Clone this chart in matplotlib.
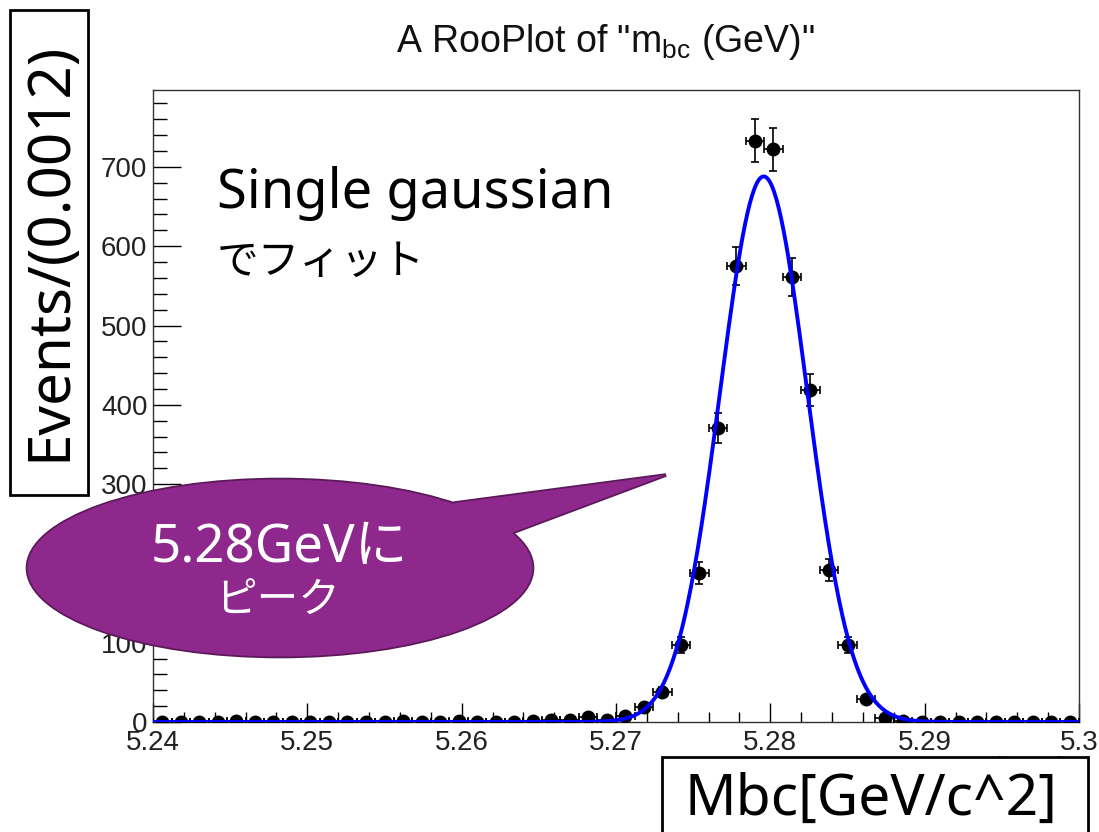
import numpy as np
import matplotlib
matplotlib.use("Agg")
import matplotlib.pyplot as plt
from matplotlib.patches import Ellipse, Polygon, Rectangle
from matplotlib.ticker import MultipleLocator

plt.rcParams['font.family'] = ['Liberation Sans', 'DejaVu Sans']
plt.rcParams['mathtext.fontset'] = 'custom'
plt.rcParams['mathtext.rm'] = 'Liberation Sans'
plt.rcParams['mathtext.it'] = 'Liberation Sans'

# binned data: 50 bins of 0.0012 GeV from 5.24 to 5.30
bin_lo = 5.24
bin_width = 0.0012
counts = [0, 0, 0, 0, 1, 0, 0, 0, 0, 0,
          0, 0, 0, 1, 0, 0, 1, 0, 0, 0,
          1, 2, 2, 6, 2, 8, 19, 38, 97, 188,
          371, 575, 733, 722, 561, 419, 192, 97, 29, 5,
          1, 0, 0, 0, 0, 0, 0, 0, 0, 0]

# single gaussian fit
fit_mean = 5.27957
fit_sigma = 0.00282
fit_peak = 688.0

x_ticks = [5.24, 5.25, 5.26, 5.27, 5.28, 5.29, 5.30]
x_labels = ['5.24', '5.25', '5.26', '5.27', '5.28', '5.29', '5.3']
y_ticks = [0, 100, 200, 300, 400, 500, 600, 700]

W, H = 1099, 832
def fx(px):
    return px / W
def fy(py):
    return 1 - py / H

counts = np.array(counts, dtype=float)
centers = bin_lo + bin_width * (np.arange(len(counts)) + 0.5)
err_hi = np.where(counts > 0, np.sqrt(counts), 1.15)
err_lo = np.sqrt(counts)

fig = plt.figure(figsize=(W / 100, H / 100), dpi=100)
ax = fig.add_axes([fx(153), fy(722), fx(1079 - 153), (722 - 90) / H])

ax.errorbar(centers, counts, xerr=bin_width / 2, yerr=[err_lo, err_hi],
            fmt='o', color='black', ms=9, capsize=3, elinewidth=1.2,
            capthick=1.2, zorder=3)

xf = np.linspace(5.24, 5.30, 800)
yf = fit_peak * np.exp(-0.5 * ((xf - fit_mean) / fit_sigma) ** 2)
ax.plot(xf, yf, color='#0000ff', lw=2.8, zorder=4)

ax.set_xlim(5.24, 5.30)
ax.set_ylim(0, 797)
ax.set_xticks(x_ticks, x_labels)
ax.set_yticks(y_ticks)
ax.xaxis.set_minor_locator(MultipleLocator(0.002))
ax.yaxis.set_minor_locator(MultipleLocator(20))
ax.tick_params(axis='x', which='major', direction='in', length=14, width=1,
               labelsize=20, pad=6, labelcolor='#222222')
ax.tick_params(axis='x', which='minor', direction='in', length=7, width=1)
ax.tick_params(axis='y', which='major', direction='in', length=20, width=1,
               labelsize=20, pad=4, labelcolor='#222222')
ax.tick_params(axis='y', which='minor', direction='in', length=10, width=1)
for s in ax.spines.values():
    s.set_linewidth(1.0)
    s.set_color('#333333')

fig.text(fx(605), fy(42), 'A RooPlot of "m$_{\\mathrm{bc}}$ (GeV)"',
         ha='center', va='center', fontsize=27, color='#111111')

# root's own x title, mostly hidden behind the box
fig.text(fx(1066), fy(754), 'm$_{\\mathrm{bc}}$ (GeV)', ha='right', va='top',
         fontsize=20, color='#222222', zorder=1)

latin = ['Noto Sans', 'Noto Sans CJK JP', 'DejaVu Sans']
jp = ['Noto Sans CJK JP', 'DejaVu Sans']

fig.text(fx(217), fy(208), 'Single gaussian', family=latin, fontsize=39,
         va='baseline', ha='left')
fig.text(fx(217), fy(274), 'でフィット', family=jp, fontsize=30,
         va='baseline', ha='left')

# speech bubble
purple = '#8e288c'
edge = '#5c1a5b'
ell_c = (fx(280), fy(568))
ell_w, ell_h = fx(505), 177 / H
tail = [(fx(440), fy(540)), (fx(455), fy(503)), (fx(666), fy(475)),
        (fx(514), fy(532)), (fx(480), fy(560))]
for lw, ec, z in [(2.6, edge, 6), (0, 'none', 7)]:
    fig.patches.append(Ellipse(ell_c, ell_w, ell_h, transform=fig.transFigure,
                               facecolor=purple, edgecolor=ec, lw=lw, zorder=z))
    fig.patches.append(Polygon(tail, closed=True, transform=fig.transFigure,
                               facecolor=purple, edgecolor=ec, lw=lw, zorder=z))
fig.text(fx(279), fy(562), '5.28GeVに', family=latin, fontsize=38, color='white',
         ha='center', va='baseline', zorder=8)
fig.text(fx(278), fy(613), 'ピーク', family=jp, fontsize=30, color='white',
         ha='center', va='baseline', zorder=8)

# boxed axis labels
fig.patches.append(Rectangle((fx(10), fy(495)), fx(78), (495 - 10) / H,
                             transform=fig.transFigure, facecolor='white',
                             edgecolor='black', lw=2, zorder=5))
fig.text(fx(50), fy(251), 'Events/(0.0012)', family=latin, fontsize=42,
         rotation=90, ha='center', va='center', zorder=6)
fig.patches.append(Rectangle((fx(662), fy(840)), fx(1088 - 662), (840 - 757) / H,
                             transform=fig.transFigure, facecolor='white',
                             edgecolor='black', lw=2, zorder=5))
fig.text(fx(871), fy(800), 'Mbc[GeV/c^2]', family=latin, fontsize=41,
         ha='center', va='center', zorder=6)

fig.savefig('out.png', dpi=100)
